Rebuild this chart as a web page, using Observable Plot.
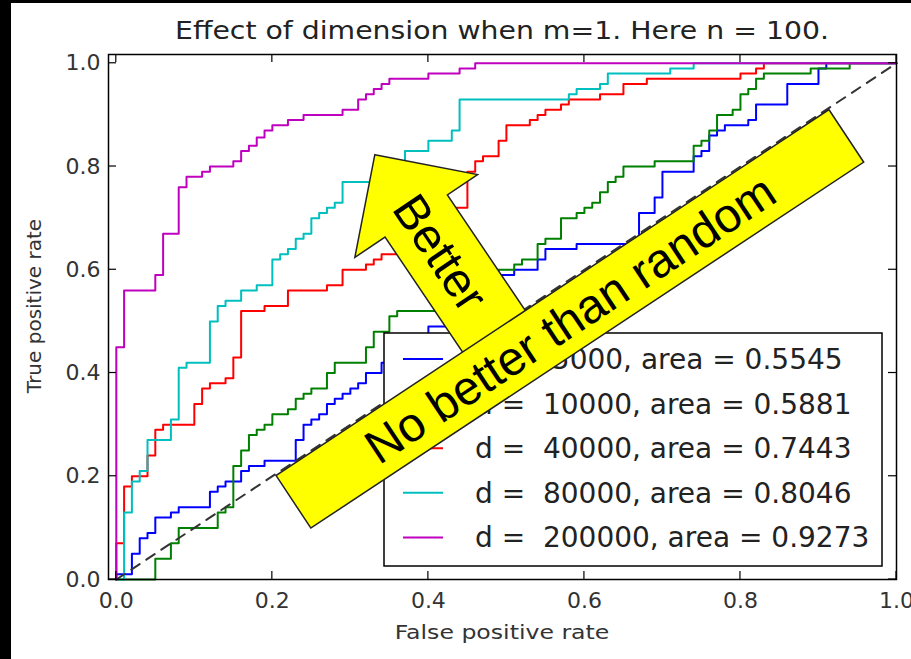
<!DOCTYPE html>
<html><head><meta charset="utf-8">
<script src="https://cdn.jsdelivr.net/npm/d3@7"></script>
<script src="https://cdn.jsdelivr.net/npm/@observablehq/plot@0.6"></script>
<style>
html,body{margin:0;padding:0;background:#fff;}
svg text{white-space:pre;}
</style>
</head><body><div id="chart"></div>
<script>
const titleText = "Effect of dimension when m=1. Here n = 100.";
const xLabel = "False positive rate";
const yLabel = "True positive rate";
const xTicks = [0, 0.2, 0.4, 0.6, 0.8, 1.0];
const yTicks = [0, 0.2, 0.4, 0.6, 0.8, 1.0];
const seriesNames = [
  "d =   5000, area = 0.5545",
  "d =  10000, area = 0.5881",
  "d =  40000, area = 0.7443",
  "d =  80000, area = 0.8046",
  "d =  200000, area = 0.9273"
];
const seriesColors = ["#0000ff", "#008000", "#ff0000", "#00bfbf", "#bf00bf"];
const betterText = "Better";
const randomText = "No better than random";

// ROC points [fpr, tpr]; each point is where the curve rises (step-after)
const roc5000 = [[0,0],[0,0.01],[0.02,0.05],[0.03,0.08],[0.04,0.09],[0.05,0.12],[0.07,0.13],[0.08,0.14],[0.12,0.17],[0.13,0.18],[0.14,0.19],[0.16,0.21],[0.17,0.22],[0.19,0.23],[0.23,0.27],[0.24,0.30],[0.25,0.31],[0.26,0.32],[0.27,0.34],[0.28,0.35],[0.29,0.36],[0.30,0.37],[0.31,0.38],[0.32,0.40],[0.34,0.42],[0.36,0.44],[0.38,0.46],[0.40,0.49],[0.43,0.50],[0.45,0.53],[0.47,0.56],[0.49,0.59],[0.51,0.60],[0.54,0.62],[0.55,0.64],[0.59,0.65],[0.67,0.71],[0.69,0.74],[0.70,0.79],[0.74,0.82],[0.75,0.83],[0.76,0.86],[0.77,0.87],[0.78,0.88],[0.81,0.89],[0.82,0.92],[0.86,0.96],[0.90,0.99],[0.91,1.0],[1,1]];
const roc10000 = [[0,0],[0.05,0.04],[0.07,0.07],[0.08,0.10],[0.13,0.13],[0.14,0.14],[0.15,0.22],[0.16,0.25],[0.17,0.28],[0.18,0.29],[0.19,0.30],[0.20,0.32],[0.22,0.33],[0.23,0.35],[0.24,0.36],[0.25,0.37],[0.27,0.40],[0.28,0.42],[0.32,0.45],[0.33,0.48],[0.35,0.51],[0.36,0.52],[0.45,0.55],[0.47,0.58],[0.49,0.60],[0.51,0.61],[0.52,0.62],[0.54,0.65],[0.55,0.66],[0.57,0.70],[0.59,0.71],[0.60,0.72],[0.61,0.73],[0.62,0.75],[0.63,0.77],[0.64,0.78],[0.65,0.80],[0.69,0.81],[0.74,0.84],[0.75,0.85],[0.76,0.87],[0.77,0.90],[0.79,0.91],[0.80,0.94],[0.81,0.95],[0.82,0.97],[0.83,0.98],[0.89,0.99],[0.94,1.0],[1,1]];
const roc40000 = [[0,0],[0,0.07],[0.01,0.18],[0.02,0.20],[0.04,0.24],[0.05,0.29],[0.06,0.30],[0.10,0.34],[0.11,0.37],[0.12,0.38],[0.14,0.39],[0.15,0.43],[0.16,0.52],[0.19,0.53],[0.22,0.56],[0.27,0.57],[0.29,0.60],[0.32,0.61],[0.33,0.62],[0.34,0.63],[0.36,0.65],[0.38,0.67],[0.40,0.69],[0.42,0.70],[0.43,0.72],[0.45,0.79],[0.46,0.81],[0.47,0.82],[0.49,0.85],[0.50,0.88],[0.53,0.89],[0.54,0.90],[0.55,0.91],[0.57,0.92],[0.58,0.93],[0.62,0.94],[0.65,0.96],[0.68,0.97],[0.80,0.98],[0.82,0.99],[0.83,1.0],[1,1]];
const roc80000 = [[0,0],[0.01,0.13],[0.02,0.19],[0.03,0.21],[0.04,0.27],[0.07,0.31],[0.08,0.41],[0.09,0.42],[0.12,0.50],[0.13,0.53],[0.14,0.54],[0.16,0.56],[0.18,0.57],[0.20,0.62],[0.21,0.63],[0.22,0.64],[0.23,0.66],[0.24,0.67],[0.25,0.70],[0.26,0.71],[0.27,0.72],[0.28,0.73],[0.29,0.77],[0.37,0.83],[0.40,0.85],[0.43,0.87],[0.44,0.93],[0.58,0.94],[0.59,0.95],[0.62,0.96],[0.63,0.98],[0.71,0.99],[0.74,1.0],[1,1]];
const roc200000 = [[0,0],[0,0.45],[0.01,0.56],[0.05,0.59],[0.06,0.67],[0.08,0.76],[0.09,0.78],[0.11,0.79],[0.12,0.80],[0.15,0.81],[0.16,0.83],[0.17,0.84],[0.18,0.856],[0.19,0.87],[0.20,0.88],[0.22,0.89],[0.24,0.90],[0.29,0.91],[0.31,0.93],[0.32,0.94],[0.33,0.95],[0.34,0.96],[0.35,0.97],[0.40,0.98],[0.44,0.99],[0.46,1.0],[1,1]];
const diagonal = [[0,0],[1,1]];

const allSeries = [roc5000, roc10000, roc40000, roc80000, roc200000];
const table = allSeries.flatMap((pts, i) => pts.map(([x, y]) => ({series: seriesNames[i], x, y})));

const W = 911, H = 659;
const mL = 108, mR = 15, mT = 54, mB = 80;

const chart = Plot.plot({
  width: W, height: H,
  marginLeft: mL, marginRight: mR, marginTop: mT, marginBottom: mB,
  style: {background: "white", fontFamily: "DejaVu Sans", overflow: "visible"},
  x: {domain: [-0.01, 1.0]},
  y: {domain: [0, 1.017]},
  color: {domain: seriesNames, range: seriesColors},
  marks: [
    Plot.line(table, {x: "x", y: "y", z: "series", stroke: "series", curve: "step-after", strokeWidth: 2}),
    Plot.line(diagonal, {x: d => d[0], y: d => d[1], stroke: "#333", strokeWidth: 2, strokeDasharray: "10,8"}),
    Plot.frame({stroke: "black", strokeWidth: 1.5}),
    Plot.axisX(xTicks, {anchor: "bottom", tickSize: 0, tickPadding: 13, tickFormat: d3.format(".1f"), fontSize: 22, fill: "#333", label: null}),
    Plot.axisY(yTicks, {anchor: "left", tickSize: 0, tickPadding: 8, tickFormat: d3.format(".1f"), fontSize: 22, fill: "#333", label: null})
  ]
});

const sx = chart.scale("x"), sy = chart.scale("y");
const X = v => sx.apply(v), Y = v => sy.apply(v);
const svg = d3.select(chart);
const fL = mL, fR = W - mR, fT = mT, fB = H - mB;

// inward ticks on all four sides
const tg = svg.append("g").attr("stroke", "black").attr("stroke-width", 1.2);
for (const v of xTicks) {
  tg.append("line").attr("x1", X(v)).attr("x2", X(v)).attr("y1", fB).attr("y2", fB - 8);
  tg.append("line").attr("x1", X(v)).attr("x2", X(v)).attr("y1", fT).attr("y2", fT + 8);
}
for (const v of yTicks) {
  tg.append("line").attr("y1", Y(v)).attr("y2", Y(v)).attr("x1", fL).attr("x2", fL + 8);
  tg.append("line").attr("y1", Y(v)).attr("y2", Y(v)).attr("x1", fR).attr("x2", fR - 8);
}

// title and axis labels
const cx = (fL + fR) / 2;
svg.append("text").attr("transform", `translate(${cx},30) scale(1.18,1)`).attr("text-anchor", "middle")
  .attr("dy", "0.36em").attr("font-family", "DejaVu Sans").attr("font-size", 24).attr("fill", "#222").text(titleText);
svg.append("text").attr("transform", `translate(${cx},632) scale(1.18,1)`).attr("text-anchor", "middle")
  .attr("dy", "0.36em").attr("font-family", "DejaVu Sans").attr("font-size", 20).attr("fill", "#333").text(xLabel);
svg.append("text").attr("transform", `translate(34,306) rotate(-90)`).attr("text-anchor", "middle")
  .attr("dy", "0.36em").attr("font-family", "DejaVu Sans").attr("font-size", 20).attr("fill", "#333").text(yLabel);

// legend (lower right)
const lgW = 498, lgH = 233;
const lgX = fR - 14 - lgW, lgY = fB - 13 - lgH;
const lg = svg.append("g");
lg.append("rect").attr("x", lgX).attr("y", lgY).attr("width", lgW).attr("height", lgH)
  .attr("fill", "white").attr("stroke", "black").attr("stroke-width", 1.5);
seriesNames.forEach((name, i) => {
  const cy = lgY + 26 + i * 44.6;
  lg.append("line").attr("x1", lgX + 19).attr("x2", lgX + 59).attr("y1", cy).attr("y2", cy)
    .attr("stroke", seriesColors[i]).attr("stroke-width", 2);
  lg.append("text").attr("x", lgX + 91).attr("y", cy).attr("dy", "0.36em").attr("text-anchor", "start")
    .attr("font-family", "DejaVu Sans").attr("font-size", 28).attr("fill", "#222")
    .style("white-space", "pre").text(name);
});

// "Better" arrow (tip anchored in data space)
const tip = [X(0.332), Y(0.822)];
const ag = svg.append("g").attr("transform", `translate(${tip[0]},${tip[1]}) rotate(56)`);
ag.append("polygon")
  .attr("points", [[0,0],[74,-74],[74,-37.6],[255,-37.6],[255,37.6],[74,37.6],[74,74]].map(p => p.join(",")).join(" "))
  .attr("fill", "#ffff00").attr("stroke", "#222").attr("stroke-width", 1.5);
ag.append("text").attr("x", 118).attr("y", 0).attr("dy", "0.35em").attr("text-anchor", "middle")
  .attr("font-family", "Liberation Sans").attr("font-size", 48).attr("fill", "black").text(betterText);

// "No better than random" banner
const bc = [X(0.582), Y(0.504)];
const bg = svg.append("g").attr("transform", `translate(${bc[0]},${bc[1]}) rotate(-33.5)`);
bg.append("rect").attr("x", -331.5).attr("y", -31.5).attr("width", 663).attr("height", 63)
  .attr("fill", "#ffff00").attr("stroke", "#222").attr("stroke-width", 1.5);
bg.append("text").attr("x", 0).attr("y", 0).attr("dy", "0.35em").attr("text-anchor", "middle")
  .attr("font-family", "Liberation Sans").attr("font-size", 48).attr("fill", "black").text(randomText);

// black page border strips
svg.append("rect").attr("x", 0).attr("y", 0).attr("width", 11).attr("height", H).attr("fill", "black");
svg.append("rect").attr("x", 0).attr("y", 0).attr("width", W).attr("height", 3).attr("fill", "black");

document.getElementById("chart").appendChild(chart);
</script>
</body></html>
